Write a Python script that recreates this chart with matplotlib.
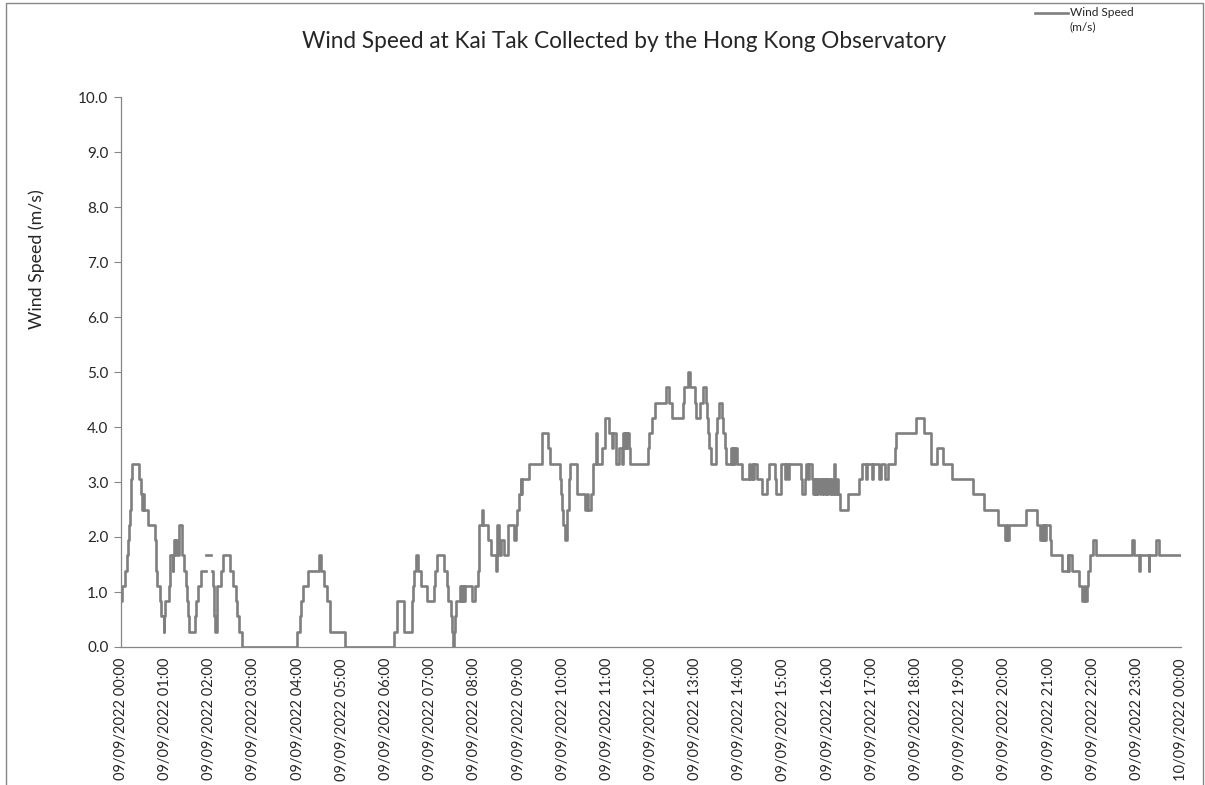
import numpy as np
import matplotlib
matplotlib.use('Agg')
import matplotlib.pyplot as plt
from matplotlib.lines import Line2D
from matplotlib.patches import Rectangle

plt.rcParams['font.family'] = ['Lato', 'DejaVu Sans']

nan = np.nan

# minute of the day at which each reading level starts (step data, 09/09/2022)
minute = [0, 2, 5, 8, 10, 11, 12, 13, 14, 15,
          24, 27, 29, 30, 31, 37, 46, 47, 48, 49,
          53, 54, 58, 59, 60, 65, 66, 67, 70, 71,
          72, 73, 74, 76, 79, 83, 86, 88, 89, 91,
          92, 101, 102, 104, 109, 115, 116, 122, 123, 125,
          126, 127, 128, 130, 131, 136, 138, 148, 152, 156,
          158, 160, 164, 239, 243, 244, 247, 254, 269, 272,
          276, 280, 284, 304, 371, 375, 385, 395, 397, 398,
          401, 404, 408, 416, 425, 427, 429, 439, 443, 444,
          448, 449, 451, 452, 454, 455, 461, 462, 463, 464,
          465, 466, 467, 477, 481, 485, 486, 487, 491, 492,
          499, 502, 509, 511, 514, 516, 520, 526, 534, 536,
          538, 541, 543, 544, 545, 554, 572, 580, 583, 597,
          598, 599, 601, 603, 606, 608, 610, 619, 631, 633,
          634, 639, 641, 645, 646, 654, 657, 663, 667, 669,
          673, 676, 680, 682, 684, 685, 687, 688, 690, 692,
          716, 717, 721, 726, 740, 744, 748, 764, 765, 770,
          773, 780, 781, 787, 791, 795, 796, 797, 799, 801,
          808, 810, 812, 817, 818, 820, 822, 829, 830, 831,
          833, 834, 837, 843, 853, 855, 857, 858, 860, 864,
          871, 878, 880, 889, 890, 896, 897, 902, 904, 906,
          908, 924, 925, 929, 931, 933, 934, 939, 940, 941,
          943, 944, 946, 947, 949, 951, 953, 954, 956, 958,
          959, 961, 963, 964, 966, 968, 970, 972, 974, 977,
          988, 1002, 1007, 1012, 1013, 1020, 1022, 1030, 1032, 1038,
          1042, 1052, 1053, 1080, 1091, 1100, 1109, 1116, 1129, 1157,
          1173, 1191, 1201, 1203, 1204, 1206, 1229, 1244, 1249, 1251,
          1252, 1254, 1255, 1257, 1262, 1264, 1279, 1286, 1287, 1288,
          1292, 1302, 1306, 1308, 1309, 1312, 1313, 1316, 1320, 1325,
          1373, 1376, 1383, 1384, 1396, 1397, 1406, 1410, 1440]

# wind speed (m/s) from that minute on; nan = missing readings
speed = [0.83, 1.11, 1.39, 1.67, 1.94, 2.22, 2.5, 2.78, 3.06, 3.33,
         3.06, 2.78, 2.5, 2.78, 2.5, 2.22, 1.94, 1.67, 1.39, 1.11,
         0.83, 0.56, 0.28, 0.56, 0.83, 1.11, 1.39, 1.67, 1.39, 1.67,
         1.94, 1.67, 1.94, 1.67, 2.22, 1.67, 1.39, 1.11, 0.83, 0.56,
         0.28, 0.56, 0.83, 1.11, 1.39, nan, 1.67, nan, 1.39, 1.11,
         0.83, 0.56, 0.28, 0.83, 1.11, 1.39, 1.67, 1.39, 1.11, 0.83,
         0.56, 0.28, 0.0, 0.28, 0.56, 0.83, 1.11, 1.39, 1.67, 1.39,
         1.11, 0.83, 0.28, 0.0, 0.28, 0.83, 0.28, 0.83, 1.11, 1.39,
         1.67, 1.39, 1.11, 0.83, 1.11, 1.39, 1.67, 1.39, 1.11, 0.83,
         0.56, 0.28, 0.0, 0.28, 0.56, 0.83, 1.11, 0.83, 1.11, 0.83,
         1.11, 0.83, 1.11, 0.83, 1.11, 1.39, 1.67, 2.22, 2.5, 2.22,
         1.94, 1.67, 1.39, 2.22, 1.67, 1.94, 1.67, 2.22, 1.94, 2.22,
         2.5, 2.78, 3.06, 2.78, 3.06, 3.33, 3.89, 3.61, 3.33, 3.06,
         2.78, 2.5, 2.22, 1.94, 2.5, 3.06, 3.33, 2.78, 2.5, 2.78,
         2.5, 2.78, 3.33, 3.89, 3.33, 3.61, 4.17, 3.89, 3.61, 3.89,
         3.33, 3.61, 3.33, 3.89, 3.61, 3.89, 3.61, 3.89, 3.61, 3.33,
         3.61, 3.89, 4.17, 4.44, 4.72, 4.44, 4.17, 4.44, 4.72, 5.0,
         4.72, 4.44, 4.17, 4.44, 4.72, 4.44, 4.17, 3.89, 3.61, 3.33,
         3.89, 4.17, 4.44, 4.17, 3.89, 3.61, 3.33, 3.61, 3.33, 3.61,
         3.33, 3.61, 3.33, 3.06, 3.33, 3.06, 3.33, 3.06, 3.33, 3.06,
         2.78, 3.06, 3.33, 3.06, 2.78, 3.06, 3.33, 3.06, 3.33, 3.06,
         3.33, 3.06, 2.78, 3.06, 3.33, 3.06, 3.33, 3.06, 2.78, 3.06,
         2.78, 3.06, 2.78, 3.06, 2.78, 3.06, 2.78, 3.06, 2.78, 3.06,
         2.78, 3.06, 2.78, 3.06, 2.78, 3.33, 2.78, 3.06, 2.78, 2.5,
         2.78, 3.06, 3.33, 3.06, 3.33, 3.06, 3.33, 3.06, 3.33, 3.06,
         3.33, 3.61, 3.89, 4.17, 3.89, 3.33, 3.61, 3.33, 3.06, 2.78,
         2.5, 2.22, 1.94, 2.22, 1.94, 2.22, 2.5, 2.22, 1.94, 2.22,
         1.94, 2.22, 1.94, 2.22, 1.94, 1.67, 1.39, 1.67, 1.39, 1.67,
         1.39, 1.11, 0.83, 1.11, 0.83, 1.11, 1.39, 1.67, 1.94, 1.67,
         1.94, 1.67, 1.39, 1.67, 1.39, 1.67, 1.94, 1.67, 1.67]

tick_hours = list(range(25))
tick_labels = ['09/09/2022 %02d:00' % h for h in range(24)] + ['10/09/2022 00:00']
y_ticks = np.arange(0, 10.01, 1.0)

fig = plt.figure(figsize=(12.05, 7.85), dpi=100)
ax = fig.add_axes([121/1205, 1-647/785, 1060/1205, 550/785])

line_col = '#7f7f7f'
axis_col = '#868686'
text_col = '#262626'

ax.step(minute, speed, where='post', color=line_col, lw=1.9, label='Wind Speed\n(m/s)')

ax.set_xlim(0, 1440)
ax.set_ylim(0, 10)
ax.set_xticks([h*60 for h in tick_hours])
ax.set_xticklabels(tick_labels, rotation=90, fontsize=10.5, color=text_col)
ax.set_yticks(y_ticks)
ax.set_yticklabels(['%.1f' % v for v in y_ticks], fontsize=11, color=text_col)
ax.tick_params(axis='y', length=5, width=0.8, color=axis_col, pad=4)
ax.tick_params(axis='x', length=0, pad=8)
for s in ['top', 'right']:
    ax.spines[s].set_visible(False)
for s in ['left', 'bottom']:
    ax.spines[s].set_color(axis_col)
    ax.spines[s].set_linewidth(0.9)

fig.text(624/1205, 1-42/785, 'Wind Speed at Kai Tak Collected by the Hong Kong Observatory',
         ha='center', va='center', fontsize=16.3, color=text_col)
fig.text(37/1205, 1-259/785, 'Wind Speed (m/s)', rotation=90, ha='center', va='center',
         fontsize=12.8, color=text_col)

# legend, drawn by hand so the key lines up with the first text row
fig.add_artist(Line2D([1035/1205, 1068/1205], [1-13/785, 1-13/785], color=line_col, lw=1.9))
fig.text(1070/1205, 1-13/785, 'Wind Speed', ha='left', va='center', fontsize=8.6, color=text_col)
fig.text(1070/1205, 1-27/785, '(m/s)', ha='left', va='center', fontsize=8.6, color=text_col)

# chart area border
fig.add_artist(Rectangle((6/1205, -0.05), (1203-6)/1205, 1.05-3/785, transform=fig.transFigure,
                         fill=False, edgecolor=axis_col, lw=1))

fig.savefig('out.png', dpi=100)
